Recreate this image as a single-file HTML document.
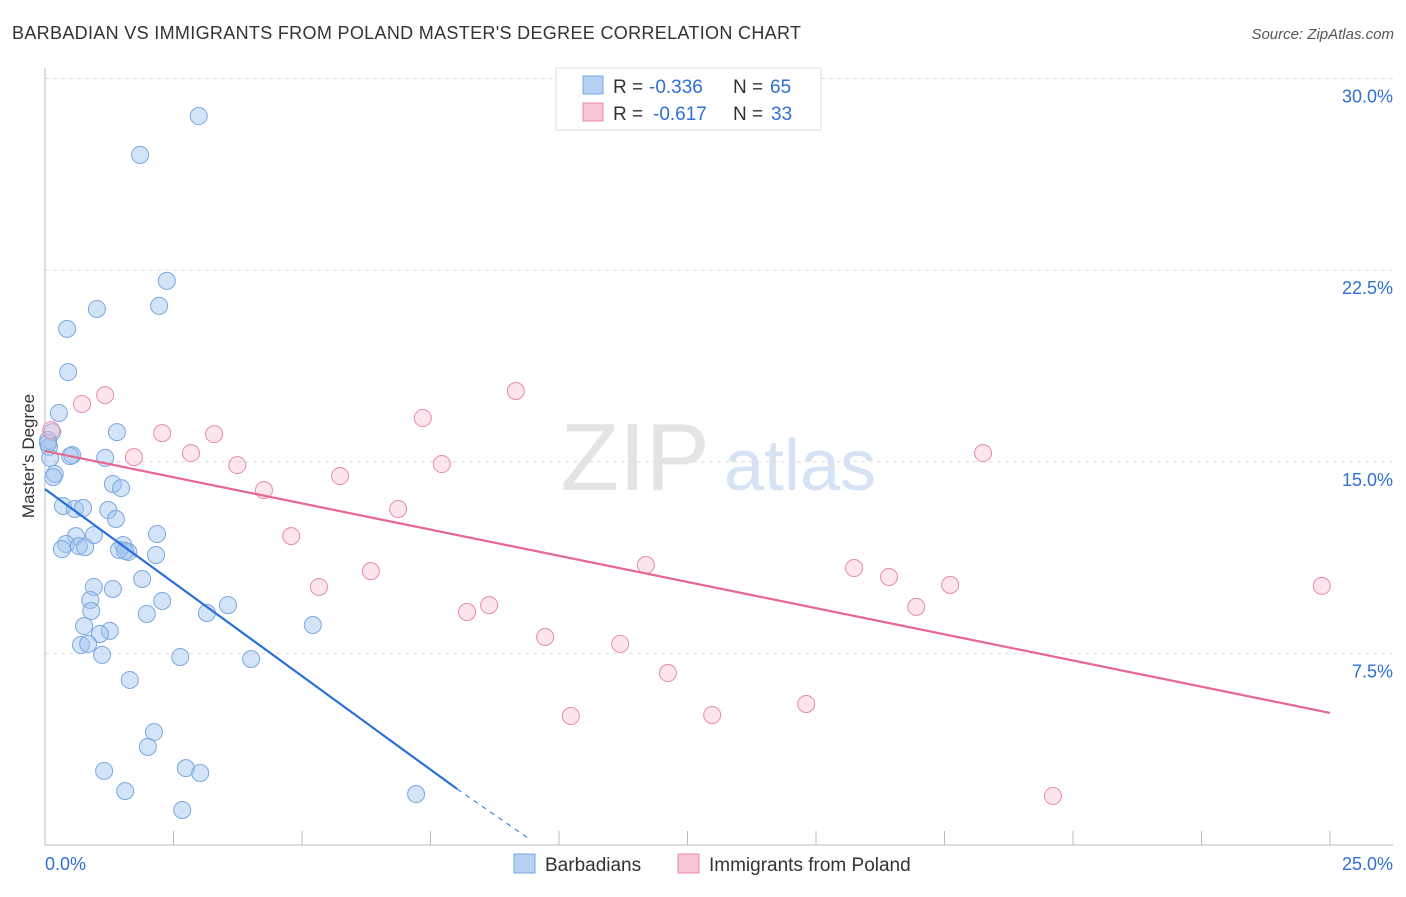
<!DOCTYPE html>
<html><head><meta charset="utf-8"><style>
body{margin:0;background:#fff;font-family:"Liberation Sans",sans-serif}
svg text{font-family:"Liberation Sans",sans-serif}
</style></head><body>
<svg id="c" width="1406" height="892">
<text x="12" y="39" font-size="18" fill="#333" textLength="789">BARBADIAN VS IMMIGRANTS FROM POLAND MASTER'S DEGREE CORRELATION CHART</text>
<text x="1394" y="39" font-size="15" fill="#555" font-style="italic" text-anchor="end">Source: ZipAtlas.com</text>
<text x="34" y="456" font-size="17" fill="#333" text-anchor="middle" transform="rotate(-90 34 456)">Master's Degree</text>
<g><text x="635" y="490" font-size="96" fill="#e4e4e4" font-family="Liberation Serif" text-anchor="middle">ZIP</text><text x="800" y="490" font-size="72" fill="#d5e3f5" text-anchor="middle">atlas</text></g>
<g id="grid"></g><g id="axes"></g><g id="marks"></g>
<g>
<rect x="556" y="68" width="265" height="62" fill="#fff" stroke="#ddd"/>
<rect x="583" y="76" width="20" height="18" fill="#b5d0f3" stroke="#7aa7e0"/>
<rect x="583" y="103" width="20" height="18" fill="#f8c7d6" stroke="#e88aa8"/>
<text x="613" y="93" font-size="19" fill="#333">R =</text>
<text x="649" y="93" font-size="19" fill="#2f6fd6">-0.336</text>
<text x="733" y="93" font-size="19" fill="#333">N =</text>
<text x="770" y="93" font-size="19" fill="#2f6fd6">65</text>
<text x="613" y="120" font-size="19" fill="#333">R =</text>
<text x="653" y="120" font-size="19" fill="#2f6fd6">-0.617</text>
<text x="733" y="120" font-size="19" fill="#333">N =</text>
<text x="771" y="120" font-size="19" fill="#2f6fd6">33</text>
</g>
<g>
<rect x="514" y="854" width="21" height="19" fill="#b5d0f3" stroke="#7aa7e0"/>
<text x="545" y="871" font-size="19" fill="#333">Barbadians</text>
<rect x="678" y="854" width="21" height="19" fill="#f8c7d6" stroke="#e88aa8"/>
<text x="709" y="871" font-size="19" fill="#333">Immigrants from Poland</text>
</g>
</svg>
<script>
const yTicks=[7.5,15,22.5,30];
const yTickLabels=["7.5%","15.0%","22.5%","30.0%"];
const xTicks=[0,2.5,5,7.5,10,12.5,15,17.5,20,22.5,25];
const blueX=[2.99,1.85,2.37,2.22,1.01,0.43,0.45,0.27,0.14,0.06,0.08,1.40,0.53,0.49,1.17,1.32,1.48,0.19,0.16,0.35,0.58,0.74,1.23,1.38,0.60,0.95,2.18,0.41,0.33,0.66,0.78,1.52,1.62,1.44,1.56,2.16,1.89,0.95,1.32,0.88,2.28,0.90,1.98,3.15,3.56,0.76,5.21,1.26,1.07,0.70,0.84,1.11,2.63,4.01,1.65,2.12,2.00,1.15,2.74,3.02,1.56,2.67,7.22,0.10,0.06];
const blueY=[28.53,27.01,22.08,21.10,20.98,20.20,18.51,16.91,16.16,15.85,15.58,16.16,15.26,15.22,15.15,14.13,13.97,14.52,14.40,13.27,13.15,13.19,13.11,12.76,12.09,12.13,12.17,11.78,11.58,11.70,11.66,11.74,11.47,11.55,11.51,11.35,10.41,10.10,10.02,9.59,9.55,9.16,9.04,9.08,9.39,8.57,8.61,8.38,8.26,7.83,7.87,7.44,7.36,7.28,6.46,4.42,3.84,2.90,3.01,2.82,2.11,1.37,1.99,15.15,15.73];
const pinkX=[0.12,0.72,1.17,2.28,3.29,1.73,2.84,3.74,4.26,5.74,4.79,6.87,7.35,7.72,9.16,5.33,6.34,8.21,8.64,9.73,10.23,11.19,11.69,12.12,12.98,14.81,15.74,16.42,16.95,17.61,18.25,19.61,24.84];
const pinkY=[16.24,17.26,17.61,16.12,16.08,15.18,15.34,14.87,13.89,14.44,12.09,13.15,16.71,14.91,17.77,10.10,10.72,9.12,9.39,8.14,5.05,7.87,10.96,6.73,5.09,5.52,10.84,10.49,9.32,10.18,15.34,1.92,10.14];
const blueLine=[13.93,8.02,2.19];const blueDashEnd=[9.4,0.27];
const pinkLine=[15.42,25,5.17];
const X=v=>45+v*51.4, Y=v=>845-v*25.55;
const NS="http://www.w3.org/2000/svg";
function mk(t,a,p){const e=document.createElementNS(NS,t);for(const k in a)e.setAttribute(k,a[k]);p.appendChild(e);return e;}
const grid=document.getElementById('grid'),axes=document.getElementById('axes'),marks=document.getElementById('marks');
yTicks.forEach((v,i)=>{const l=mk('line',{x1:45,x2:1393,y1:Y(v),y2:Y(v),stroke:'#ddd','stroke-dasharray':'4,4'},grid);


const t=mk('text',{x:1393,y:Y(v)+24,'font-size':18,fill:'#2f6fd6','text-anchor':'end'},grid);t.textContent=yTickLabels[i];

});
mk('line',{x1:45,x2:45,y1:68,y2:845,stroke:'#bbb'},axes);
mk('line',{x1:45,x2:1393,y1:845,y2:845,stroke:'#bbb'},axes);
xTicks.forEach(v=>{const l=mk('line',{x1:X(v),x2:X(v),y1:845,y2:831,stroke:'#bbb'},axes);

});
const t0=mk('text',{x:45,y:870,'font-size':18,fill:'#2f6fd6'},axes);t0.textContent='0.0%';


const t1=mk('text',{x:1393,y:870,'font-size':18,fill:'#2f6fd6','text-anchor':'end'},axes);t1.textContent='25.0%';


blueX.forEach((x,i)=>{const c=mk('circle',{cx:X(x),cy:Y(blueY[i]),r:8.5,fill:'rgba(160,195,240,0.45)',stroke:'#7aa7e0','stroke-width':1},marks);

});
pinkX.forEach((x,i)=>{const c=mk('circle',{cx:X(x),cy:Y(pinkY[i]),r:8.5,fill:'rgba(248,190,210,0.4)',stroke:'#e88aa8','stroke-width':1},marks);

});
let l=mk('line',{x1:X(0),y1:Y(blueLine[0]),x2:X(blueLine[1]),y2:Y(blueLine[2]),stroke:'#2a6fd8','stroke-width':2.2},marks);


l=mk('line',{x1:X(blueLine[1]),y1:Y(blueLine[2]),x2:X(blueDashEnd[0]),y2:Y(blueDashEnd[1]),stroke:'#2a6fd8','stroke-width':1,'stroke-dasharray':'5,5'},marks);


l=mk('line',{x1:X(0),y1:Y(pinkLine[0]),x2:X(pinkLine[1]),y2:Y(pinkLine[2]),stroke:'#e8678f','stroke-width':2.2},marks);


</script>
</body></html>
